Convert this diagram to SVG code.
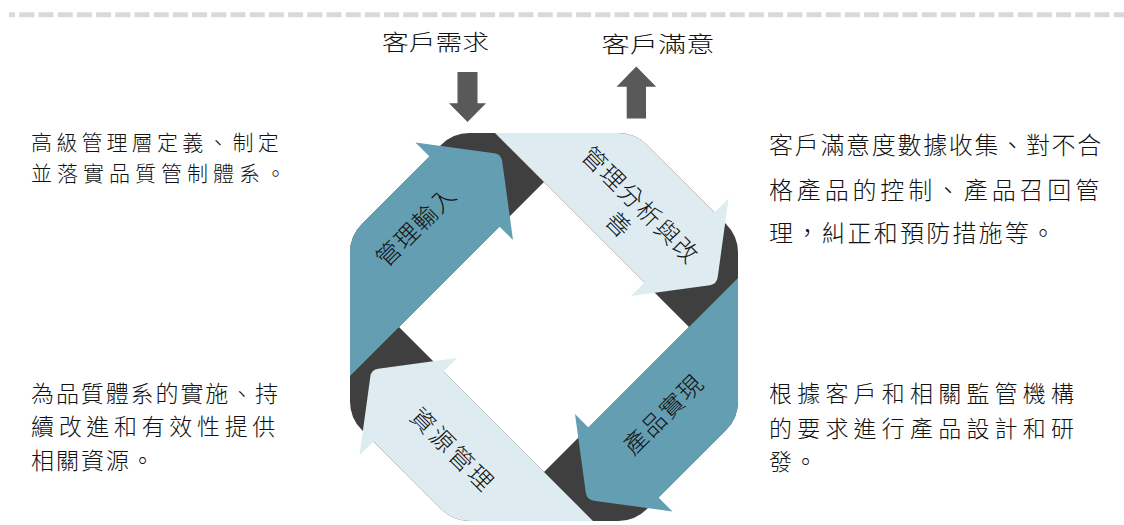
<svg xmlns="http://www.w3.org/2000/svg" xmlns:xlink="http://www.w3.org/1999/xlink" width="1124" height="525" viewBox="0 0 1124 525">
  <style>
    .teal { fill: #649EB3; }
    .light { fill: #DEEBF0; }
    .dark { fill: #3F3F3F; }
    .blk { fill: #595959; }
    .txt { font-family: "Noto Sans CJK TC", "Noto Sans CJK SC", sans-serif; font-weight: 300; fill: #111111; }
    .side { font-size: 23px; }
    .lbl { font-size: 24px; letter-spacing: 1.5px; text-anchor: middle; dominant-baseline: central; }
    .top { font-size: 21.5px; }
  </style>
  <defs>
    <path id="band" d="M -194,49 L -145,0 L -44.5,-100.5 L -31,-87 L -41.8,-165.8 Q -42.75,-172.75 -49.7,-173.7 L -128.5,-184.5 L -114.5,-170.5 L -182.3,-102.7 Q -194,-91 -194,-74.4 Z"/>
  </defs>

  <g id="dashed-rule">
    <line x1="9" y1="14.8" x2="1124" y2="14.8" stroke="#D9D9D9" stroke-width="5" stroke-dasharray="15 4.2" stroke-dashoffset="8.9"/>
  </g>

  <g id="node-customer-demand">
    <text class="txt top" x="382" y="50.2" textLength="107" lengthAdjust="spacingAndGlyphs">客戶需求</text>
  </g>
  <g id="node-customer-satisfaction">
    <text class="txt top" x="601.5" y="51.8" textLength="113" lengthAdjust="spacingAndGlyphs">客戶滿意</text>
  </g>

  <g id="connectors">
    <polygon class="blk" points="457.5,72 477.5,72 477.5,103.3 486,103.3 467.5,122 449,103.3 457.5,103.3"/>
    <polygon class="blk" points="636.3,66.5 656.2,86.8 646,86.8 646,118.5 626.7,118.5 626.7,86.8 616.5,86.8"/>
  </g>

  <g id="cycle" transform="translate(544,327)">
    <path id="cycle-base" class="dark" fill-rule="evenodd" d="M -74.4,-194 L 74.4,-194 Q 91,-194 102.7,-182.3 L 182.3,-102.7 Q 194,-91 194,-74.4 L 194,74.4 Q 194,91 182.3,102.7 L 102.7,182.3 Q 91,194 74.4,194 L -74.4,194 Q -91,194 -102.7,182.3 L -182.3,102.7 Q -194,91 -194,74.4 L -194,-74.4 Q -194,-91 -182.3,-102.7 L -102.7,-182.3 Q -91,-194 -74.4,-194 Z M 0,-145 L -145,0 L 0,145 L 145,0 Z"/>
    <g id="node-management-input"><use xlink:href="#band" href="#band" class="teal"/></g>
    <g id="node-management-analysis"><use xlink:href="#band" href="#band" class="light" transform="rotate(90)"/></g>
    <g id="node-product-realization"><use xlink:href="#band" href="#band" class="teal" transform="rotate(180)"/></g>
    <g id="node-resource-management"><use xlink:href="#band" href="#band" class="light" transform="rotate(270)"/></g>
  </g>

  <g id="labels">
    <text class="txt lbl" transform="translate(415,225) rotate(-45)" x="0" y="0">管理輸入</text>
    <g transform="translate(631.5,214.3) rotate(45)">
      <text class="txt lbl" x="0" y="-14.5" style="letter-spacing:1.7px">管理分析與改</text>
      <text class="txt lbl" x="-1.5" y="14.5">善</text>
    </g>
    <text class="txt lbl" transform="translate(662,413) rotate(-45)" x="0" y="0">產品實現</text>
    <text class="txt lbl" transform="translate(454,449) rotate(45)" x="0" y="0" style="letter-spacing:3px">資源管理</text>
  </g>

  <g id="note-top-left">
    <text class="txt side" style="font-size:21px"><tspan x="31" y="150" letter-spacing="4.2">高級管理層定義、制定</tspan><tspan x="31" y="180.5" letter-spacing="5">並落實品質管制體系。</tspan></text>
  </g>
  <g id="note-top-right">
    <text class="txt side" style="font-size:24px"><tspan x="769" y="153.5" letter-spacing="1.69">客戶滿意度數據收集、對不合</tspan><tspan x="769" y="198.5" letter-spacing="3.83">格產品的控制、產品召回管</tspan><tspan x="769" y="242" letter-spacing="2.2">理，糾正和預防措施等。</tspan></text>
  </g>
  <g id="note-bottom-left">
    <text class="txt side"><tspan x="31" y="401.5" letter-spacing="1.9">為品質體系的實施、持</tspan><tspan x="31" y="435" letter-spacing="4.67">續改進和有效性提供</tspan><tspan x="31" y="468.5" letter-spacing="2">相關資源。</tspan></text>
  </g>
  <g id="note-bottom-right">
    <text class="txt side"><tspan x="769" y="401.5" letter-spacing="5.2">根據客戶和相關監管機構</tspan><tspan x="769" y="436.5" letter-spacing="5.2">的要求進行產品設計和研</tspan><tspan x="769" y="470" letter-spacing="2">發。</tspan></text>
  </g>
</svg>
